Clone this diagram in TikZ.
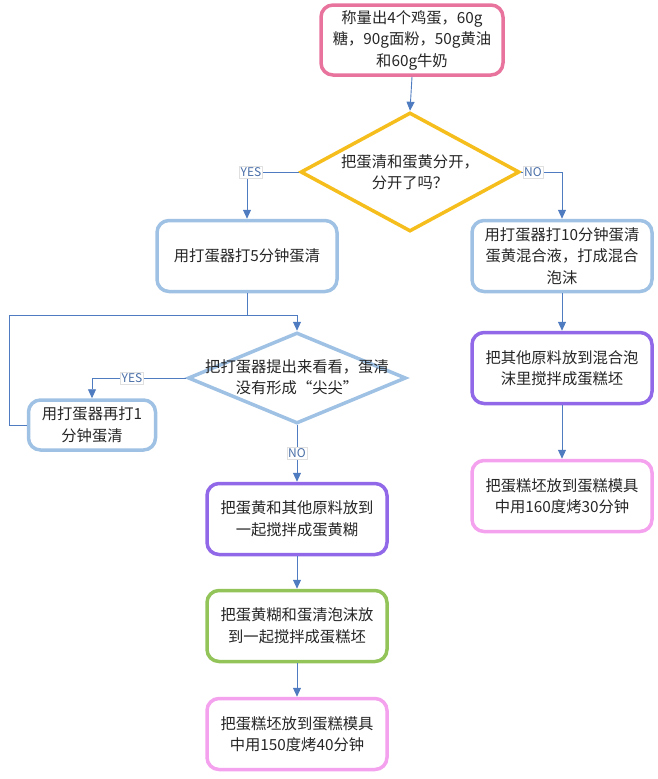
\documentclass[tikz,border=0pt]{standalone}
\usepackage{fontspec}
\setmainfont{Noto Sans CJK SC}
\usetikzlibrary{shapes.geometric,arrows.meta}
\definecolor{cpink}{HTML}{E8739C}
\definecolor{cyellow}{HTML}{F5BE1C}
\definecolor{cblue}{HTML}{9FC1E4}
\definecolor{cpurple}{HTML}{9168E8}
\definecolor{cgreen}{HTML}{92C45A}
\definecolor{clpink}{HTML}{F4A2EE}
\definecolor{carrow}{HTML}{4F7BC0}
\definecolor{clab}{HTML}{4A6FA8}
\newcommand\zhsize{\fontsize{15.3}{21.5}\selectfont}
\begin{document}
\begin{tikzpicture}[x=1pt,y=-1pt,
  box/.style={draw, line width=3.5pt, rounded corners=12pt, fill=white, align=center,
    minimum width=180pt, minimum height=71pt, inner sep=2pt, font=\zhsize, text=black!85},
  dia/.style={diamond, draw, line width=3.5pt, inner sep=0pt, fill=white},
  dtext/.style={align=center, font=\zhsize, text=black!85, inner sep=0pt},
  arr/.style={draw=carrow, line width=0.9pt, -{Triangle[width=8pt,length=9pt]}},
  ln/.style={draw=carrow, line width=0.9pt},
  lab/.style={fill=white, draw=black!12, line width=0.4pt, text=clab, font=\fontsize{12}{14}\selectfont, inner sep=1.2pt}]
\useasboundingbox (0,0) rectangle (658,779);

% nodes
\node[box, draw=cpink, minimum width=182pt, minimum height=70pt] (start) at (412,40) {称量出4个鸡蛋，60g\\糖，90g面粉，50g黄油\\和60g牛奶};
\node[dia, draw=cyellow, minimum width=219pt, minimum height=119pt] (d1) at (410,172) {};
\node[dtext] (d1t) at (410,172) {把蛋清和蛋黄分开，\\分开了吗？};

\node[box, draw=cblue] (b5) at (247,256) {用打蛋器打5分钟蛋清};
\node[box, draw=cblue] (b10) at (562,256) {用打蛋器打10分钟蛋清\\蛋黄混合液，打成混合\\泡沫};
\node[box, draw=cpurple] (p1) at (562,368) {把其他原料放到混合泡\\沫里搅拌成蛋糕坯};
\node[box, draw=clpink] (k1) at (562,496) {把蛋糕坯放到蛋糕模具\\中用160度烤30分钟};

\node[dia, draw=cblue, minimum width=218pt, minimum height=91pt] (d2) at (297,378) {};
\node[dtext] (d2t) at (297,377) {把打蛋器提出来看看，蛋清\\没有形成“尖尖”};

\node[box, draw=cblue, minimum width=127pt, minimum height=50pt] (retry) at (92,425) {用打蛋器再打1\\分钟蛋清};

\node[box, draw=cpurple] (p2) at (297,519) {把蛋黄和其他原料放到\\一起搅拌成蛋黄糊};
\node[box, draw=cgreen] (g2) at (297,626) {把蛋黄糊和蛋清泡沫放\\到一起搅拌成蛋糕坯};
\node[box, draw=clpink] (k2) at (297,734) {把蛋糕坯放到蛋糕模具\\中用150度烤40分钟};

% connectors
\draw[arr] (start.south) -- (d1.north);
\draw[arr] (d1.west) -| (b5.north);
\draw[arr] (d1.east) -| (b10.north);
\draw[arr] (b10.south) -- (p1.north);
\draw[arr] (p1.south) -- (k1.north);

\coordinate (j) at (247,315);
\draw[ln] (b5.south) -- (j);
\draw[arr] (j) -| (d2.north);
\draw[ln] (retry.west) -- ++(-17,0) |- (j);
\draw[arr] (d2.west) -| (retry.north);
\draw[arr] (d2.south) -- (p2.north);
\draw[arr] (p2.south) -- (g2.north);
\draw[arr] (g2.south) -- (k2.north);

% labels
\node[lab] (yes1) at (251,172) {YES};
\node[lab] (no1) at (533,172) {NO};
\node[lab] (yes2) at (132,378) {YES};
\node[lab] (no2) at (297,453) {NO};
\end{tikzpicture}
\end{document}
